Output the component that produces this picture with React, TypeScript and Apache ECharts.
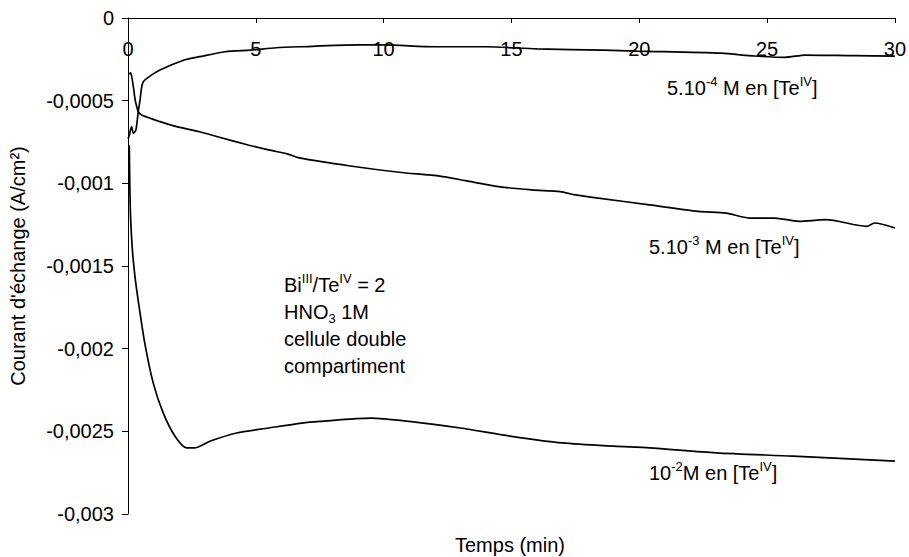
import React, { useEffect, useRef } from "react";
import * as echarts from "echarts";

const xTicks = [0, 5, 10, 15, 20, 25, 30];
const yTickLabels = ["0", "-0,0005", "-0,001", "-0,0015", "-0,002", "-0,0025", "-0,003"];

const t4 = [0, 0.05, 0.14, 0.21, 0.31, 0.4, 0.47, 0.53, 0.6, 0.79, 1.25, 2.2, 2.8, 3.8, 4.8, 5.8, 6.7, 9, 10, 12, 14, 16, 18.6, 19.9, 23.2, 24.5, 25.7, 26.5, 28.4, 30];
const v4 = [-0.00073, -0.00071, -0.000657, -0.000697, -0.000677, -0.000567, -0.000496, -0.000423, -0.000385, -0.000359, -0.000315, -0.000254, -0.000234, -0.000204, -0.000194, -0.00018, -0.000174, -0.000163, -0.000163, -0.000174, -0.000174, -0.000187, -0.000194, -0.0002, -0.000213, -0.00023, -0.000238, -0.000224, -0.000228, -0.00023];

const t3 = [0.05, 0.1, 0.21, 0.27, 0.34, 0.4, 0.53, 1.25, 1.9, 2.8, 3.5, 4.7, 5.5, 6.25, 6.7, 8.7, 10.6, 12.2, 13.2, 14.5, 15.8, 16.9, 17.5, 18.4, 20.4, 22.3, 23.4, 24.3, 25.3, 26.25, 27.3, 28.9, 29.2, 30];
const v3 = [-0.00034, -0.00033, -0.000415, -0.000486, -0.000536, -0.000567, -0.000587, -0.000627, -0.000657, -0.000688, -0.000718, -0.000768, -0.000798, -0.000823, -0.000846, -0.000895, -0.000933, -0.000956, -0.000984, -0.00102, -0.00104, -0.00105, -0.00107, -0.00109, -0.00113, -0.00117, -0.00118, -0.00121, -0.00121, -0.00123, -0.00122, -0.00126, -0.00124, -0.00127];

const t2 = [0.05, 0.07, 0.1, 0.17, 0.27, 0.4, 0.66, 0.99, 1.38, 1.84, 2.29, 2.6, 3.2, 4.25, 5.5, 6.8, 7.5, 9.5, 11, 13, 15, 17, 19, 20.4, 23, 26, 30];
const v2 = [-0.00077, -0.001, -0.0012, -0.0014, -0.00156, -0.00171, -0.00197, -0.00221, -0.00239, -0.00253, -0.0026, -0.0026, -0.00256, -0.00251, -0.00248, -0.00245, -0.00244, -0.00242, -0.00244, -0.00248, -0.00253, -0.00257, -0.00259, -0.0026, -0.00263, -0.00265, -0.00268];

const FONT = "Liberation Sans, Arial, sans-serif";
const FS = 20;

const zip = (t: number[], v: number[]) => t.map((x, i) => [x, v[i]]);

const rich = {
  n: { fontSize: FS, fontFamily: FONT, color: "#000", lineHeight: 23, verticalAlign: "bottom" },
  sup: { fontSize: 13, fontFamily: FONT, color: "#000", lineHeight: 23, verticalAlign: "top" },
  sub: { fontSize: 13, fontFamily: FONT, color: "#000", lineHeight: 23, verticalAlign: "bottom", padding: [0, 0, -3, 0] },
};

function txt(x: number, y: number, text: string, extra: any = {}) {
  return {
    type: "text",
    x,
    y,
    style: { text, rich, font: `${FS}px ${FONT}`, fill: "#000", verticalAlign: "middle", align: "left", ...extra },
  };
}

export default function App() {
  const ref = useRef<HTMLDivElement>(null);
  useEffect(() => {
    const chart = echarts.init(ref.current!, null, { renderer: "svg" });
    const line = (name: string, data: number[][]) => ({
      type: "line",
      name,
      data,
      showSymbol: false,
      smooth: 0.25,
      lineStyle: { color: "#000", width: 1.7 },
      itemStyle: { color: "#000" },
    });
    chart.setOption({
      animation: false,
      backgroundColor: "#fff",
      grid: { left: 128, right: 13, top: 18, bottom: 43, containLabel: false },
      xAxis: {
        type: "value",
        position: "top",
        min: 0,
        max: 30,
        interval: 5,
        axisLine: { show: true, onZero: false, lineStyle: { color: "#000", width: 1 } },
        axisTick: { show: true, inside: true, length: 5, lineStyle: { color: "#000" } },
        axisLabel: {
          inside: true,
          margin: 21,
          color: "#000",
          fontSize: FS,
          fontFamily: FONT,
          formatter: (v: number) => (xTicks.includes(v) ? String(v) : ""),
        },
        splitLine: { show: false },
      },
      yAxis: {
        type: "value",
        min: -0.003,
        max: 0,
        interval: 0.0005,
        axisLine: { show: true, onZero: false, lineStyle: { color: "#000", width: 1 } },
        axisTick: { show: true, inside: false, length: 6, lineStyle: { color: "#000" } },
        axisLabel: {
          margin: 14,
          color: "#000",
          fontSize: FS,
          fontFamily: FONT,
          formatter: (v: number) => yTickLabels[Math.round(-v / 0.0005)] ?? "",
        },
        splitLine: { show: false },
        name: "Courant d'échange (A/cm²)",
        nameLocation: "middle",
        nameRotate: 90,
        nameGap: 100,
        nameTextStyle: { color: "#000", fontSize: FS, fontFamily: FONT },
      },
      series: [line("5e-4", zip(t4, v4)), line("5e-3", zip(t3, v3)), line("1e-2", zip(t2, v2))],
      graphic: [
        txt(510, 545, "Temps (min)", { align: "center" }),
        txt(667, 86, "{n|5.10}{sup|-4}{n| M en [Te}{sup|IV}{n|]}"),
        txt(649, 245, "{n|5.10}{sup|-3}{n| M en [Te}{sup|IV}{n|]}"),
        txt(649, 471, "{n|10}{sup|-2}{n|M en [Te}{sup|IV}{n|]}"),
        txt(284, 283, "{n|Bi}{sup|III}{n|/Te}{sup|IV}{n| = 2}"),
        txt(284, 310, "{n|HNO}{sub|3}{n| 1M}"),
        txt(284, 337, "{n|cellule double}"),
        txt(284, 364, "{n|compartiment}"),
      ],
    });
    return () => chart.dispose();
  }, []);
  return <div ref={ref} style={{ width: 909, height: 557, position: "absolute", left: 0, top: 0 }} />;
}
